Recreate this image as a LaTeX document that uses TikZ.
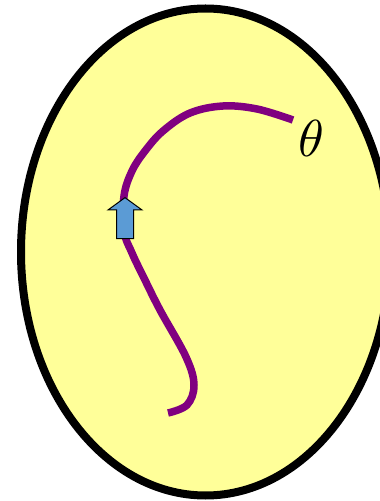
\documentclass[tikz,border=0pt]{standalone}
\usepackage{tikz}
\usetikzlibrary{shapes.arrows}
\definecolor{eggfill}{HTML}{FFFF99}
\definecolor{pathpurple}{HTML}{800080}
\definecolor{arrowblue}{HTML}{5B9BD5}

\begin{document}
\begin{tikzpicture}[x=1pt, y=1pt,
  region/.style={draw=black, fill=eggfill, line width=8pt},
  curve/.style={draw=pathpurple, line width=7.5pt, line cap=butt},
  flow/.style={single arrow, draw=black, fill=arrowblue, line width=1pt,
               minimum height=41pt, single arrow head extend=8.5pt,
               single arrow tip angle=108, inner xsep=0pt, inner ysep=8pt, rotate=90},
  lab/.style={scale=5.2}]
\clip (0,0) rectangle (380,501);
\path[region] (205.5,249) ellipse [x radius=184.5, y radius=243.5];
\coordinate (start) at (168,88);
\coordinate (finish) at (293,381);
\draw[curve] plot[smooth, tension=0.6] coordinates {(start) (187,96) (194,116) (186,144)
  (160,191) (144,223) (132,248) (124,270) (124,305) (132,330) (145,350) (163,370)
  (190,388) (223,395) (257,392) (finish)};
\node[flow, anchor=tip] (dir) at (125,304) {};
\node[lab] (theta) at (311,363) {$\theta$};
\end{tikzpicture}
\end{document}
